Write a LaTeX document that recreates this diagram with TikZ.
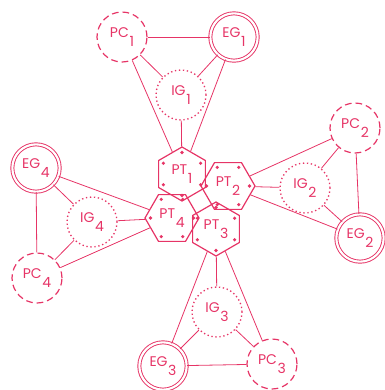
\documentclass[tikz,border=0pt]{standalone}
\usepackage{fontspec}
\setmainfont{Poppins}
\usetikzlibrary{shapes.geometric}
\definecolor{rose}{RGB}{230,52,102}
\newcommand{\lbl}[2]{#1\kern0.5pt\raisebox{-1.2ex}{#2}}
\tikzstyle{pc} = [
  circle,
  minimum size=37.5pt,
  inner sep=0,
  draw=rose,
  line width=0.9pt,
  dash pattern=on 5pt off 3pt,
  text=rose
]
\tikzstyle{eg} = [
  circle,
  minimum size=35.5pt,
  inner sep=0,
  draw=rose,
  line width=0.7pt,
  double,
  double distance=1.6pt,
  text=rose
]
\tikzstyle{ig} = [
  circle,
  minimum size=37.5pt,
  inner sep=0,
  draw=rose,
  line width=1pt,
  dotted,
  text=rose
]
\tikzstyle{pt} = [
  regular polygon,
  regular polygon sides=6,
  minimum size=40.5pt,
  inner sep=0,
  draw=rose,
  line width=0.9pt,
  text=rose
]
\tikzstyle{link} = [
  draw=rose,
  line width=0.6pt
]

\begin{document}
\begin{tikzpicture}[x=0.75pt,y=-0.75pt,font=\fontsize{10.5}{12}\selectfont]
      \useasboundingbox (0,0) rectangle (385,390);

      \node [pt, shape border rotate=30] (PT1) at (182,174) {\lbl{PT}{1}};
      \node [pt] (PT2) at (228,186) {\lbl{PT}{2}};
      \node [pt] (PT4) at (172,218) {\lbl{PT}{4}};
      \node [pt, shape border rotate=30] (PT3) at (216,229) {\lbl{PT}{3}};

      \node [pc] (PC1) at (122,37) {\lbl{PC}{1}};
      \node [eg] (EG1) at (234,37) {\lbl{EG}{1}};
      \node [ig] (IG1) at (181,95) {\lbl{IG}{1}};

      \node [pc] (PC2) at (355,128) {\lbl{PC}{2}};
      \node [ig] (IG2) at (305,188) {\lbl{IG}{2}};
      \node [eg] (EG2) at (360,238) {\lbl{EG}{2}};

      \node [ig] (IG3) at (217,312) {\lbl{IG}{3}};
      \node [eg] (EG3) at (163,366) {\lbl{EG}{3}};
      \node [pc] (PC3) at (272,364) {\lbl{PC}{3}};

      \node [eg] (EG4) at (36,168) {\lbl{EG}{4}};
      \node [ig] (IG4) at (92,222) {\lbl{IG}{4}};
      \node [pc] (PC4) at (37,278) {\lbl{PC}{4}};

      % dots near the corners
      \foreach \p in {PT1,PT3}
        \foreach \a in {30,90,...,330}
          \fill [rose] (\p) ++(\a:21.5) circle (1.8);
      \foreach \p in {PT2,PT4}
        \foreach \a in {0,60,...,300}
          \fill [rose] (\p) ++(\a:21.5) circle (1.8);

      \foreach \n in {1,2,3,4} {
        \draw [link] (PC\n) -- (EG\n);
        \draw [link] (PC\n) -- (IG\n);
        \draw [link] (EG\n) -- (IG\n);
        \draw [link] (PC\n) -- (PT\n);
        \draw [link] (IG\n) -- (PT\n);
        \draw [link] (EG\n) -- (PT\n);
      }

    \end{tikzpicture}
\end{document}
